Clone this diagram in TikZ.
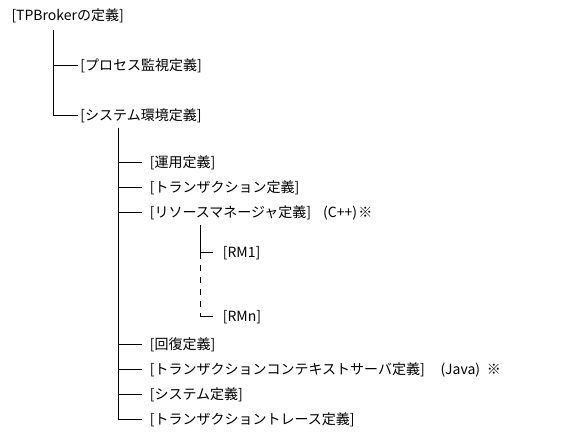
\documentclass[tikz,border=0pt]{standalone}
\usepackage{fontspec}
\setmainfont{Noto Sans CJK JP}
\begin{document}
\begin{tikzpicture}[x=0.75pt,y=-0.75pt,line width=0.75pt,line cap=butt,
  item/.style={anchor=west,inner ysep=0pt,font=\fontsize{10.5}{12}\selectfont},
  lvlA/.style={item,inner xsep=1.5pt},
  lvlB/.style={item,inner xsep=5.5pt},
  lvlC/.style={item,inner xsep=7pt}]
\useasboundingbox (0,0) rectangle (562,441);

% --- root ---
\node[lvlA] (root) at (9,16) {[TPBrokerの定義]};
\coordinate (r0) at (53,30);

% --- first level ---
\node[lvlA] (proc)   at (78,66)  {[プロセス監視定義]};
\node[lvlA] (sysenv) at (78,116) {[システム環境定義]};
\draw (r0) |- (proc.west);
\draw (r0) |- (sysenv.west);

% --- second level (under system environment) ---
\coordinate (s0) at (118,128);
\node[lvlB] (unyo)  at (142,163) {[運用定義]};
\node[lvlB] (trn)   at (142,188) {[トランザクション定義]};
\node[lvlB] (rmgr)  at (142,213) {[リソースマネージャ定義]\hspace{9pt}(C++)\hspace{1pt}※};
\node[lvlB] (kaifk) at (142,345) {[回復定義]};
\node[lvlB] (tcs)   at (142,370) {[トランザクションコンテキストサーバ定義]\hspace{12pt}(Java)\hspace{5pt}※};
\node[lvlB] (sys)   at (142,395) {[システム定義]};
\node[lvlB] (trace) at (142,420) {[トランザクショントレース定義]};
\foreach \n in {unyo,trn,rmgr,kaifk,tcs,sys,trace}
  \draw (s0) |- (\n.west);

% --- third level (resource managers) ---
\coordinate (m0) at (200,225);
\node[lvlC] (rm1) at (213,253) {[RM1]};
\node[lvlC] (rmn) at (213,317) {[RMn]};
\draw (m0) |- (rm1.west);
\draw[dash pattern=on 4.5pt off 4.5pt] (rm1.west -| m0) -- (rmn.west -| m0);
\draw (rmn.west -| m0) -- (rmn.west);

\end{tikzpicture}
\end{document}
